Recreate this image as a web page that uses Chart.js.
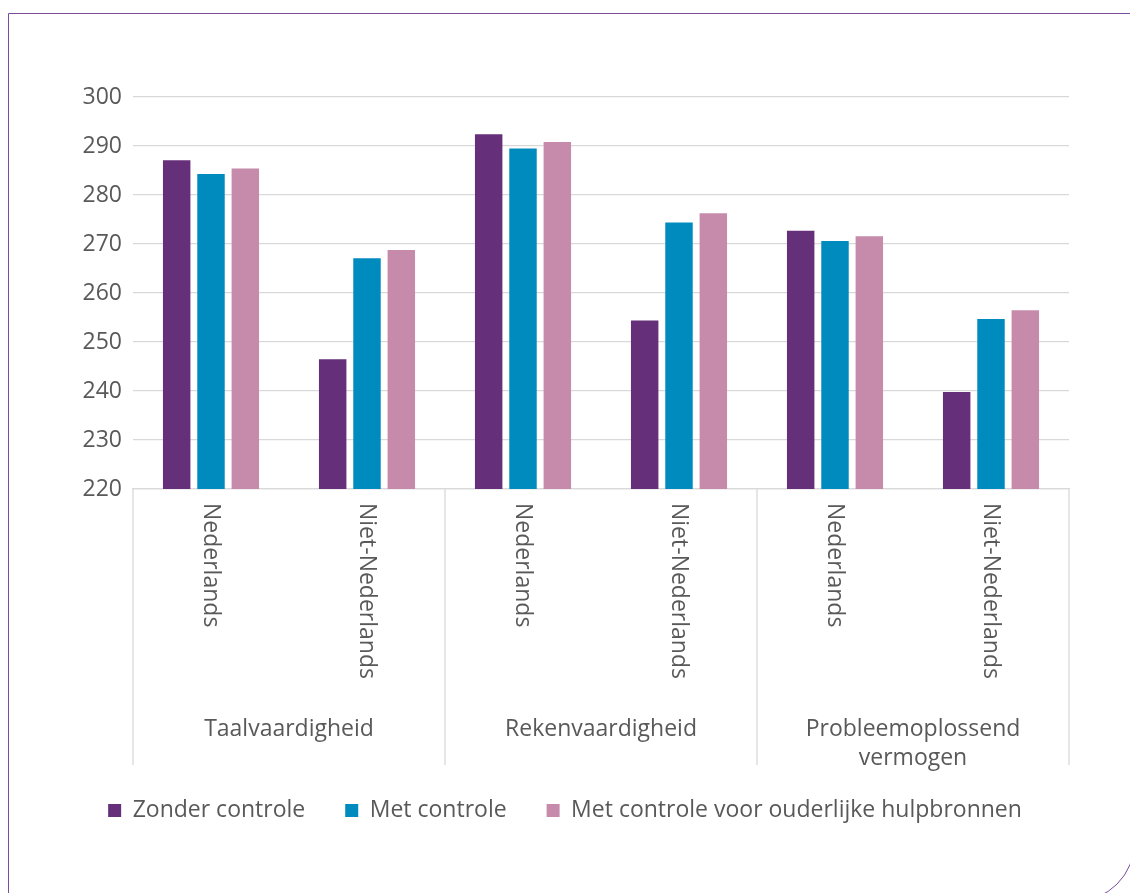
<!DOCTYPE html>
<html>
<head>
<meta charset="utf-8">
<script src="https://cdn.jsdelivr.net/npm/chart.js@4"></script>
<style>
html, body { margin: 0; padding: 0; overflow: hidden; background: #fff; }
#frame {
    position: absolute; left: 8px; top: 13px; width: 1127px; height: 889px;
    box-sizing: border-box; border: 1px solid #7b4c9a; border-bottom-right-radius: 60px;
    pointer-events: none;
}
canvas { position: absolute; left: 0; top: 0; }
</style>
</head>
<body>
<div id="frame"></div>
<canvas id="myChart" width="1130" height="893"></canvas>
<script>
var categories = ['Nederlands', 'Niet-Nederlands', 'Nederlands', 'Niet-Nederlands', 'Nederlands', 'Niet-Nederlands'];
var groupLabels = [['Taalvaardigheid'], ['Rekenvaardigheid'], ['Probleemoplossend', 'vermogen']];
var groupSizes = [2, 2, 2];
var zonderControle = [287.1, 246.5, 292.4, 254.4, 272.7, 239.8];
var metControle = [284.3, 267.1, 289.5, 274.4, 270.6, 254.7];
var metOuderlijk = [285.4, 268.8, 290.8, 276.3, 271.6, 256.5];
var yTicks = [220, 230, 240, 250, 260, 270, 280, 290, 300];

var textColor = '#595959';
var lineColor = '#d9d9d9';
var fontFamily = '"Open Sans", sans-serif';
var fontSize = 23;

// draws the rotated category labels, the group labels and the separators
var multiLevelAxis = {
    id: 'multiLevelAxis',
    afterDraw: function(chart) {
        var ctx = chart.ctx;
        var xs = chart.scales.x;
        var area = chart.chartArea;
        var catW = xs.getPixelForValue(1) - xs.getPixelForValue(0);
        ctx.save();
        ctx.fillStyle = textColor;
        ctx.font = fontSize + 'px ' + fontFamily;
        for (var i = 0; i < categories.length; i++) {
            ctx.save();
            ctx.translate(xs.getPixelForValue(i), area.bottom + 14);
            ctx.rotate(Math.PI / 2);
            ctx.textAlign = 'left';
            ctx.textBaseline = 'middle';
            ctx.fillText(categories[i], 0, 0);
            ctx.restore();
        }
        var idx = 0;
        ctx.strokeStyle = lineColor;
        ctx.lineWidth = 1.3;
        ctx.textAlign = 'center';
        ctx.textBaseline = 'middle';
        for (var g = 0; g < groupLabels.length; g++) {
            var left = xs.getPixelForValue(idx) - catW / 2;
            var right = xs.getPixelForValue(idx + groupSizes[g] - 1) + catW / 2;
            var lines = groupLabels[g];
            for (var l = 0; l < lines.length; l++) {
                ctx.fillText(lines[l], (left + right) / 2, area.bottom + 240 + l * 29);
            }
            ctx.beginPath();
            ctx.moveTo(left, area.bottom);
            ctx.lineTo(left, area.bottom + 276);
            if (g == groupLabels.length - 1) {
                ctx.moveTo(right, area.bottom);
                ctx.lineTo(right, area.bottom + 276);
            }
            ctx.stroke();
            idx += groupSizes[g];
        }
        ctx.restore();
    }
};

var ctx = document.getElementById('myChart').getContext('2d');
var myChart = new Chart(ctx, {
    type: 'bar',
    data: {
        labels: categories,
        datasets: [{
            label: 'Zonder controle',
            data: zonderControle,
            backgroundColor: '#652f79'
        }, {
            label: 'Met controle',
            data: metControle,
            backgroundColor: '#008bbf'
        }, {
            label: 'Met controle voor ouderlijke hulpbronnen',
            data: metOuderlijk,
            backgroundColor: '#c68bab'
        }]
    },
    options: {
        responsive: false,
        animation: false,
        categoryPercentage: 0.66,
        barPercentage: 0.8,
        layout: {
            padding: { left: 61, right: 61, top: 97, bottom: 61 }
        },
        scales: {
            x: {
                grid: { display: false },
                border: { display: true, color: lineColor, width: 1.3 },
                ticks: { display: false },
                afterFit: function(scale) { scale.height = 270; }
            },
            y: {
                min: 220,
                max: 300,
                afterBuildTicks: function(scale) {
                    scale.ticks = yTicks.map(function(v) { return { value: v }; });
                },
                grid: { color: lineColor, lineWidth: 1.3, drawTicks: false },
                border: { display: false },
                ticks: {
                    padding: 11,
                    color: textColor,
                    font: { family: fontFamily, size: fontSize }
                },
                afterFit: function(scale) { scale.width = 72; }
            }
        },
        plugins: {
            legend: {
                position: 'bottom',
                labels: {
                    boxWidth: 13,
                    boxHeight: 13,
                    padding: 40,
                    color: textColor,
                    font: { family: fontFamily, size: fontSize }
                }
            },
            tooltip: { enabled: false }
        }
    },
    plugins: [multiLevelAxis]
});
</script>
</body>
</html>
